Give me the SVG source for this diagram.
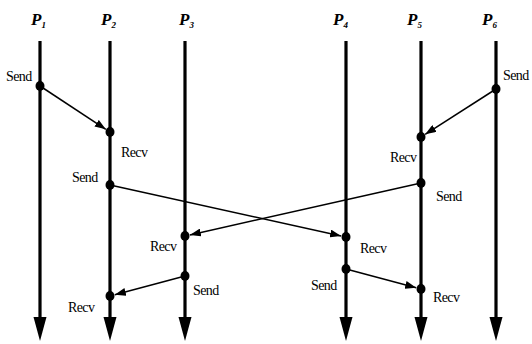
<svg xmlns="http://www.w3.org/2000/svg" width="532" height="344" viewBox="0 0 532 344">
<defs>
<style>
.life{stroke:#000;stroke-width:3.2;fill:none}
.head{fill:#000}
.dot{fill:#000}
.msg{stroke:#000;stroke-width:1.5;fill:none;marker-end:url(#ah)}
.lbl{font-family:"Liberation Serif","Times New Roman",serif;font-size:14px;fill:#000;letter-spacing:-0.6px}
.pn{font-family:"Liberation Serif","Times New Roman",serif;font-size:17px;font-weight:bold;font-style:italic;fill:#000}
.sub{font-size:9px}
</style>
<marker id="ah" viewBox="0 0 11 8" markerWidth="11" markerHeight="8" refX="11" refY="4" orient="auto" markerUnits="userSpaceOnUse">
<path d="M0,0 L11,4 L0,8 z" fill="#000"/>
</marker>
</defs>
<rect width="532" height="344" fill="#fff"/>
<g id="P1">
<text class="pn" x="31" y="25">P<tspan class="sub" dy="3">1</tspan></text>
<line class="life" x1="40" y1="41" x2="40" y2="320"/>
<path class="head" d="M33.5,317 L46.5,317 L40,341 z"/>
<ellipse class="dot" cx="40" cy="86" rx="4.5" ry="5"/>
<text class="lbl" x="6" y="81">Send</text>
</g>
<g id="P2">
<text class="pn" x="101" y="25">P<tspan class="sub" dy="3">2</tspan></text>
<line class="life" x1="110" y1="41" x2="110" y2="320"/>
<path class="head" d="M103.5,317 L116.5,317 L110,341 z"/>
<ellipse class="dot" cx="110" cy="132" rx="4.5" ry="5"/>
<text class="lbl" x="121" y="157">Recv</text>
<ellipse class="dot" cx="110" cy="185" rx="4.5" ry="5"/>
<text class="lbl" x="72" y="182">Send</text>
<ellipse class="dot" cx="110" cy="296" rx="4.5" ry="5"/>
<text class="lbl" x="68" y="312">Recv</text>
</g>
<g id="P3">
<text class="pn" x="179" y="25">P<tspan class="sub" dy="3">3</tspan></text>
<line class="life" x1="185" y1="41" x2="185" y2="320"/>
<path class="head" d="M178.5,317 L191.5,317 L185,341 z"/>
<ellipse class="dot" cx="185" cy="236" rx="4.5" ry="5"/>
<text class="lbl" x="150" y="251">Recv</text>
<ellipse class="dot" cx="185" cy="276" rx="4.5" ry="5"/>
<text class="lbl" x="193" y="295">Send</text>
</g>
<g id="P4">
<text class="pn" x="333" y="25">P<tspan class="sub" dy="3">4</tspan></text>
<line class="life" x1="346" y1="41" x2="346" y2="320"/>
<path class="head" d="M339.5,317 L352.5,317 L346,341 z"/>
<ellipse class="dot" cx="346" cy="237" rx="4.5" ry="5"/>
<text class="lbl" x="360" y="253">Recv</text>
<ellipse class="dot" cx="346" cy="269" rx="4.5" ry="5"/>
<text class="lbl" x="311" y="290">Send</text>
</g>
<g id="P5">
<text class="pn" x="407" y="25">P<tspan class="sub" dy="3">5</tspan></text>
<line class="life" x1="421" y1="41" x2="421" y2="320"/>
<path class="head" d="M414.5,317 L427.5,317 L421,341 z"/>
<ellipse class="dot" cx="421" cy="137" rx="4.5" ry="5"/>
<text class="lbl" x="390" y="162">Recv</text>
<ellipse class="dot" cx="421" cy="183" rx="4.5" ry="5"/>
<text class="lbl" x="436" y="201">Send</text>
<ellipse class="dot" cx="421" cy="289" rx="4.5" ry="5"/>
<text class="lbl" x="433" y="302">Recv</text>
</g>
<g id="P6">
<text class="pn" x="482" y="25">P<tspan class="sub" dy="3">6</tspan></text>
<line class="life" x1="496" y1="41" x2="496" y2="320"/>
<path class="head" d="M489.5,317 L502.5,317 L496,341 z"/>
<ellipse class="dot" cx="496" cy="89" rx="4.5" ry="5"/>
<text class="lbl" x="503" y="80">Send</text>
</g>
<g id="connectors">
<line class="msg" x1="40" y1="86" x2="105.8" y2="129.3"/>
<line class="msg" x1="110" y1="185" x2="341.1" y2="235.9"/>
<line class="msg" x1="496" y1="89" x2="425.2" y2="134.3"/>
<line class="msg" x1="421" y1="183" x2="189.9" y2="234.9"/>
<line class="msg" x1="185" y1="276" x2="114.8" y2="294.7"/>
<line class="msg" x1="346" y1="269" x2="416.2" y2="287.7"/>
</g>
</svg>
